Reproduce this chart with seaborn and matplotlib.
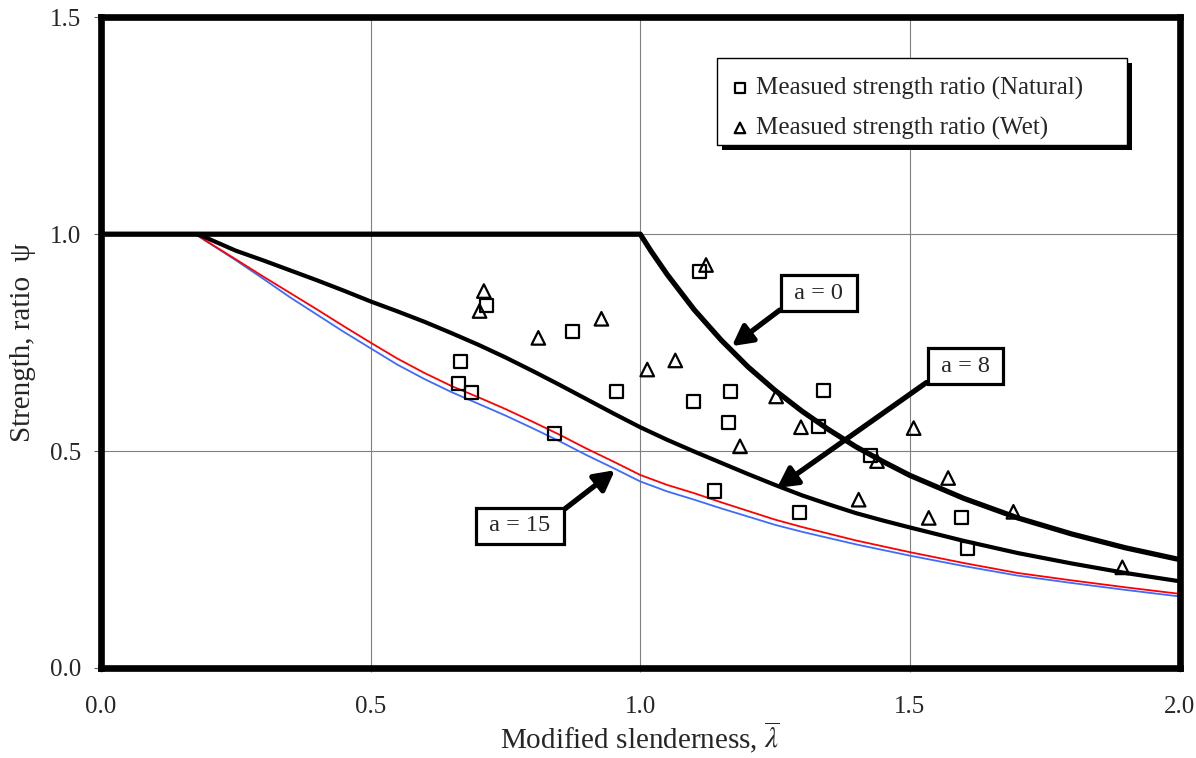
import numpy as np
import pandas as pd
import matplotlib
matplotlib.use("Agg")
import matplotlib.pyplot as plt
from matplotlib.patches import Rectangle
import seaborn as sns

# curves
lam_a0 = [0.0, 1.0, 1.02, 1.05, 1.1, 1.15, 1.2, 1.25, 1.3, 1.35, 1.4, 1.45, 1.5,
          1.6, 1.7, 1.8, 1.9, 2.0]
psi_a0 = [1.0, 1.0, 0.961, 0.907, 0.826, 0.756, 0.694, 0.640, 0.592, 0.549, 0.510,
          0.476, 0.444, 0.391, 0.346, 0.309, 0.277, 0.250]

lam_a8 = [0.18, 0.25, 0.3, 0.35, 0.4, 0.45, 0.5, 0.55, 0.6, 0.65, 0.7, 0.75, 0.8,
          0.85, 0.9, 0.95, 1.0, 1.05, 1.1, 1.15, 1.2, 1.25, 1.3, 1.35, 1.4, 1.45,
          1.5, 1.6, 1.7, 1.8, 1.9, 2.0]
psi_a8 = [1.0, 0.962, 0.94, 0.917, 0.894, 0.87, 0.845, 0.822, 0.798, 0.772, 0.745,
          0.716, 0.685, 0.653, 0.62, 0.587, 0.555, 0.526, 0.499, 0.473, 0.447, 0.422,
          0.398, 0.377, 0.357, 0.34, 0.324, 0.293, 0.265, 0.241, 0.219, 0.20]

lam_a15 = [0.175, 0.25, 0.3, 0.35, 0.4, 0.45, 0.5, 0.55, 0.6, 0.65, 0.7, 0.75, 0.8,
           0.85, 0.9, 0.95, 1.0, 1.05, 1.1, 1.15, 1.2, 1.25, 1.3, 1.4, 1.5, 1.6,
           1.7, 1.8, 1.9, 2.0]
psi_red = [1.0, 0.942, 0.903, 0.865, 0.827, 0.788, 0.75, 0.713, 0.68, 0.65, 0.624,
           0.597, 0.568, 0.538, 0.506, 0.476, 0.445, 0.422, 0.403, 0.382, 0.362,
           0.342, 0.325, 0.294, 0.267, 0.242, 0.219, 0.202, 0.186, 0.171]
psi_blue = [1.0, 0.94, 0.898, 0.855, 0.815, 0.775, 0.737, 0.699, 0.666, 0.636, 0.609,
            0.582, 0.553, 0.523, 0.491, 0.461, 0.430, 0.407, 0.388, 0.368, 0.349,
            0.33, 0.314, 0.285, 0.259, 0.235, 0.213, 0.196, 0.18, 0.165]

# measured points
nat_lam = [0.714, 0.874, 0.667, 0.663, 0.687, 0.956, 0.841, 1.109, 1.098, 1.168,
           1.163, 1.137, 1.339, 1.331, 1.427, 1.296, 1.596, 1.607]
nat_psi = [0.835, 0.775, 0.706, 0.656, 0.635, 0.638, 0.541, 0.913, 0.615, 0.638,
           0.567, 0.408, 0.640, 0.557, 0.489, 0.358, 0.346, 0.275]
wet_lam = [0.710, 0.702, 0.811, 0.928, 1.013, 1.065, 1.122, 1.252, 1.185, 1.298,
           1.439, 1.507, 1.571, 1.405, 1.535, 1.692, 1.894]
wet_psi = [0.869, 0.823, 0.761, 0.805, 0.688, 0.709, 0.929, 0.626, 0.511, 0.555,
           0.477, 0.553, 0.438, 0.388, 0.346, 0.360, 0.232]

sns.set_theme(style="white")
plt.rcParams['font.family'] = ['Liberation Serif', 'DejaVu Serif']
plt.rcParams['mathtext.fontset'] = 'stix'

fig = plt.figure(figsize=(11.96, 7.58), dpi=100)
ax = fig.add_axes([101 / 1196, 90 / 758, 1078.5 / 1196, 650.7 / 758])

ax.grid(True, color='#808080', lw=0.8)
ax.set_axisbelow(True)

sns.lineplot(x=lam_a15, y=psi_blue, ax=ax, color='#3d6bff', lw=1.3, sort=False, estimator=None)
sns.lineplot(x=lam_a15, y=psi_red, ax=ax, color='#ff0000', lw=1.3, sort=False, estimator=None)
sns.lineplot(x=lam_a8, y=psi_a8, ax=ax, color='black', lw=3.0, sort=False, estimator=None)
sns.lineplot(x=lam_a0, y=psi_a0, ax=ax, color='black', lw=3.8, sort=False, estimator=None)

sns.scatterplot(x=nat_lam, y=nat_psi, ax=ax, marker='s', s=88, facecolor='none',
                edgecolor='black', linewidth=1.6, label='Measued strength ratio (Natural)', zorder=3)
sns.scatterplot(x=wet_lam, y=wet_psi, ax=ax, marker='^', s=95, facecolor='none',
                edgecolor='black', linewidth=1.6, label='Measued strength ratio (Wet)', zorder=3)

ax.set_xlim(0, 2)
ax.set_ylim(0, 1.5)
ax.set_xticks([0.0, 0.5, 1.0, 1.5, 2.0])
ax.set_yticks([0.0, 0.5, 1.0, 1.5])
ax.xaxis.set_major_formatter(matplotlib.ticker.FormatStrFormatter('%.1f'))
ax.yaxis.set_major_formatter(matplotlib.ticker.FormatStrFormatter('%.1f'))
ax.tick_params(axis='x', bottom=True, direction='out', length=3, width=0.8,
               color='#808080', pad=17, labelsize=18)
ax.tick_params(axis='y', left=True, direction='out', length=5, width=0.8,
               color='#606060', pad=9, labelsize=18)
for sp in ax.spines.values():
    sp.set_color('black')
    sp.set_linewidth(4.8)

ax.set_xlabel(r'Modified slenderness, $\overline{\lambda}$', fontsize=21, labelpad=1)
ax.set_ylabel('Strength, ratio  ψ', fontsize=21, labelpad=10)

# legend box with black drop shadow, drawn by hand
lx0, lx1, ly0, ly1 = 0.5712, 0.9513, 0.8037, 0.9375
ax.add_patch(Rectangle((lx0 + 0.0046, ly0 - 0.0077), lx1 - lx0, ly1 - ly0, transform=ax.transAxes,
                       fc='black', ec='none', zorder=5.8, clip_on=False))
ax.add_patch(Rectangle((lx0, ly0), lx1 - lx0, ly1 - ly0, transform=ax.transAxes,
                       fc='white', ec='black', lw=1.0, zorder=5.9, clip_on=False))

leg = ax.legend(loc='center left', bbox_to_anchor=(0.5855, 0.8598), fontsize=18,
                frameon=False, markerscale=0.78, handlelength=0.6, handletextpad=0.35,
                borderpad=0, labelspacing=0.66, borderaxespad=0)
leg.set_zorder(6)

box = dict(boxstyle='square,pad=0.3', fc='white', ec='black', lw=2.3)
arr = dict(arrowstyle='-|>,head_length=0.6,head_width=0.32', lw=3.8, color='black',
           shrinkA=0, shrinkB=0, mutation_scale=20)
ax.annotate(' a = 0 ', xy=(1.170, 0.742), xytext=(1.331, 0.864), ha='center', va='center',
            fontsize=17.5, bbox=box, arrowprops=dict(arr, relpos=(0, 0)), zorder=5)
ax.annotate(' a = 8 ', xy=(1.2535, 0.415), xytext=(1.603, 0.696), ha='center', va='center',
            fontsize=17.5, bbox=box, arrowprops=dict(arr, relpos=(0, 0)), zorder=5)
ax.annotate(' a = 15 ', xy=(0.953, 0.456), xytext=(0.777, 0.328), ha='center', va='center',
            fontsize=17.5, bbox=box, arrowprops=dict(arr, relpos=(1, 1)), zorder=5)

fig.savefig('out.png', dpi=100)
